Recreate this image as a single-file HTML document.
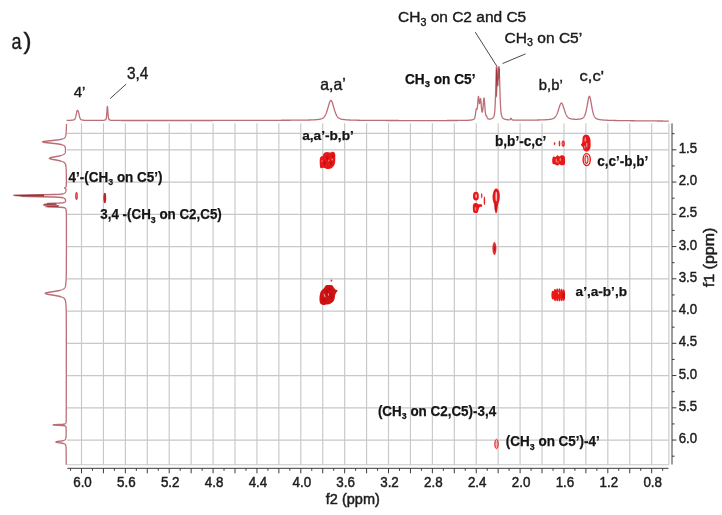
<!DOCTYPE html>
<html><head><meta charset="utf-8"><title>COSY</title>
<style>html,body{margin:0;padding:0;background:#fff;width:722px;height:515px;overflow:hidden}svg{display:block;will-change:transform;font-family:"Liberation Sans",sans-serif}</style>
</head><body><svg width="722" height="515" viewBox="0 0 722 515"><path d="M81.50 123.2V464.7 M103.43 123.2V464.7 M125.36 123.2V464.7 M147.29 123.2V464.7 M169.22 123.2V464.7 M191.15 123.2V464.7 M213.08 123.2V464.7 M235.01 123.2V464.7 M256.94 123.2V464.7 M278.87 123.2V464.7 M300.80 123.2V464.7 M322.73 123.2V464.7 M344.66 123.2V464.7 M366.59 123.2V464.7 M388.52 123.2V464.7 M410.45 123.2V464.7 M432.38 123.2V464.7 M454.31 123.2V464.7 M476.24 123.2V464.7 M498.17 123.2V464.7 M520.10 123.2V464.7 M542.03 123.2V464.7 M563.96 123.2V464.7 M585.89 123.2V464.7 M607.82 123.2V464.7 M629.75 123.2V464.7 M651.68 123.2V464.7 M668.9 123.2V464.7 M67.0 133.40H668.9 M67.0 149.80H668.9 M67.0 182.05H668.9 M67.0 214.30H668.9 M67.0 246.55H668.9 M67.0 278.80H668.9 M67.0 311.05H668.9 M67.0 343.30H668.9 M67.0 375.55H668.9 M67.0 407.80H668.9 M67.0 440.05H668.9 M67.0 464.70H668.9" stroke="#c8c8c8" stroke-width="1.15" fill="none"/><path d="M67.3 468.3H668.5 M70.54 468.3V470.8 M81.50 468.3V473.3 M92.46 468.3V470.8 M103.43 468.3V473.3 M114.39 468.3V470.8 M125.36 468.3V473.3 M136.32 468.3V470.8 M147.29 468.3V473.3 M158.26 468.3V470.8 M169.22 468.3V473.3 M180.19 468.3V470.8 M191.15 468.3V473.3 M202.11 468.3V470.8 M213.08 468.3V473.3 M224.04 468.3V470.8 M235.01 468.3V473.3 M245.98 468.3V470.8 M256.94 468.3V473.3 M267.91 468.3V470.8 M278.87 468.3V473.3 M289.84 468.3V470.8 M300.80 468.3V473.3 M311.76 468.3V470.8 M322.73 468.3V473.3 M333.69 468.3V470.8 M344.66 468.3V473.3 M355.62 468.3V470.8 M366.59 468.3V473.3 M377.56 468.3V470.8 M388.52 468.3V473.3 M399.49 468.3V470.8 M410.45 468.3V473.3 M421.42 468.3V470.8 M432.38 468.3V473.3 M443.35 468.3V470.8 M454.31 468.3V473.3 M465.28 468.3V470.8 M476.24 468.3V473.3 M487.21 468.3V470.8 M498.17 468.3V473.3 M509.13 468.3V470.8 M520.10 468.3V473.3 M531.07 468.3V470.8 M542.03 468.3V473.3 M553.00 468.3V470.8 M563.96 468.3V473.3 M574.92 468.3V470.8 M585.89 468.3V473.3 M596.86 468.3V470.8 M607.82 468.3V473.3 M618.79 468.3V470.8 M629.75 468.3V473.3 M640.72 468.3V470.8 M651.68 468.3V473.3 M662.64 468.3V470.8 M672.0 123.4V464.5 M672.0 133.68H674.6 M672.0 149.80H676.4 M672.0 165.93H674.6 M672.0 182.05H676.4 M672.0 198.18H674.6 M672.0 214.30H676.4 M672.0 230.43H674.6 M672.0 246.55H676.4 M672.0 262.68H674.6 M672.0 278.80H676.4 M672.0 294.93H674.6 M672.0 311.05H676.4 M672.0 327.18H674.6 M672.0 343.30H676.4 M672.0 359.43H674.6 M672.0 375.55H676.4 M672.0 391.68H674.6 M672.0 407.80H676.4 M672.0 423.93H674.6 M672.0 440.05H676.4 M672.0 456.18H674.6" stroke="#3a3a3a" stroke-width="1" fill="none"/><g font-family="Liberation Sans" font-size="15.2" fill="#1e1e1e" stroke="#1e1e1e" stroke-width="0.5"><text x="73.20" y="486.6" textLength="18.6" lengthAdjust="spacingAndGlyphs">6.0</text><text x="117.06" y="486.6" textLength="18.6" lengthAdjust="spacingAndGlyphs">5.6</text><text x="160.92" y="486.6" textLength="18.6" lengthAdjust="spacingAndGlyphs">5.2</text><text x="204.78" y="486.6" textLength="18.6" lengthAdjust="spacingAndGlyphs">4.8</text><text x="248.64" y="486.6" textLength="18.6" lengthAdjust="spacingAndGlyphs">4.4</text><text x="292.50" y="486.6" textLength="18.6" lengthAdjust="spacingAndGlyphs">4.0</text><text x="336.36" y="486.6" textLength="18.6" lengthAdjust="spacingAndGlyphs">3.6</text><text x="380.22" y="486.6" textLength="18.6" lengthAdjust="spacingAndGlyphs">3.2</text><text x="424.08" y="486.6" textLength="18.6" lengthAdjust="spacingAndGlyphs">2.8</text><text x="467.94" y="486.6" textLength="18.6" lengthAdjust="spacingAndGlyphs">2.4</text><text x="511.80" y="486.6" textLength="18.6" lengthAdjust="spacingAndGlyphs">2.0</text><text x="555.66" y="486.6" textLength="18.6" lengthAdjust="spacingAndGlyphs">1.6</text><text x="599.52" y="486.6" textLength="18.6" lengthAdjust="spacingAndGlyphs">1.2</text><text x="643.38" y="486.6" textLength="18.6" lengthAdjust="spacingAndGlyphs">0.8</text><text x="678.7" y="152.80" textLength="18.4" lengthAdjust="spacingAndGlyphs">1.5</text><text x="678.7" y="185.05" textLength="18.4" lengthAdjust="spacingAndGlyphs">2.0</text><text x="678.7" y="217.30" textLength="18.4" lengthAdjust="spacingAndGlyphs">2.5</text><text x="678.7" y="249.55" textLength="18.4" lengthAdjust="spacingAndGlyphs">3.0</text><text x="678.7" y="281.80" textLength="18.4" lengthAdjust="spacingAndGlyphs">3.5</text><text x="678.7" y="314.05" textLength="18.4" lengthAdjust="spacingAndGlyphs">4.0</text><text x="678.7" y="346.30" textLength="18.4" lengthAdjust="spacingAndGlyphs">4.5</text><text x="678.7" y="378.55" textLength="18.4" lengthAdjust="spacingAndGlyphs">5.0</text><text x="678.7" y="410.80" textLength="18.4" lengthAdjust="spacingAndGlyphs">5.5</text><text x="678.7" y="443.05" textLength="18.4" lengthAdjust="spacingAndGlyphs">6.0</text><text x="325.8" y="504" textLength="54" lengthAdjust="spacingAndGlyphs">f2 (ppm)</text><text transform="translate(713.6 287.2) rotate(-90)" font-size="14.3" textLength="59.5" lengthAdjust="spacingAndGlyphs">f1 (ppm)</text></g><polyline points="66.60,120.41 66.85,120.41 67.10,120.41 67.35,120.40 67.60,120.40 67.85,120.39 68.10,120.39 68.35,120.38 68.60,120.37 68.85,120.37 69.10,120.36 69.35,120.35 69.60,120.34 69.85,120.33 70.10,120.32 70.35,120.31 70.60,120.30 70.85,120.28 71.10,120.26 71.35,120.25 71.60,120.22 71.85,120.20 72.10,120.17 72.35,120.14 72.60,120.11 72.85,120.07 73.10,120.02 73.35,119.96 73.60,119.89 73.85,119.80 74.10,119.68 74.35,119.51 74.60,119.29 74.85,118.98 75.10,118.54 75.35,117.96 75.60,117.20 75.85,116.26 76.10,115.13 76.35,113.88 76.60,112.60 76.85,111.47 77.10,110.70 77.35,110.37 77.60,110.40 77.85,110.64 78.10,111.00 78.35,111.55 78.60,112.36 78.85,113.45 79.10,114.66 79.35,115.84 79.60,116.87 79.85,117.71 80.10,118.37 80.35,118.86 80.60,119.21 80.85,119.46 81.10,119.64 81.35,119.77 81.60,119.87 81.85,119.95 82.10,120.01 82.35,120.06 82.60,120.10 82.85,120.14 83.10,120.17 83.35,120.19 83.60,120.22 83.85,120.24 84.10,120.26 84.35,120.28 84.60,120.29 84.85,120.30 85.10,120.32 85.35,120.33 85.60,120.34 85.85,120.35 86.10,120.35 86.35,120.36 86.60,120.37 86.85,120.38 87.10,120.38 87.35,120.39 87.60,120.39 87.85,120.40 88.10,120.40 88.35,120.40 88.60,120.41 88.85,120.41 89.10,120.41 89.35,120.42 89.60,120.42 89.85,120.42 90.10,120.42 90.35,120.43 90.60,120.43 90.85,120.43 91.10,120.43 91.35,120.43 91.60,120.43 91.85,120.44 92.10,120.44 92.35,120.44 92.60,120.44 92.85,120.44 93.10,120.44 93.35,120.44 93.60,120.44 93.85,120.44 94.10,120.44 94.35,120.44 94.60,120.44 94.85,120.45 95.10,120.45 95.35,120.45 95.60,120.45 95.85,120.45 96.10,120.45 96.35,120.44 96.60,120.44 96.85,120.44 97.10,120.44 97.35,120.44 97.60,120.44 97.85,120.44 98.10,120.44 98.35,120.44 98.60,120.44 98.85,120.44 99.10,120.43 99.35,120.43 99.60,120.43 99.85,120.43 100.10,120.42 100.35,120.42 100.60,120.42 100.85,120.41 101.10,120.41 101.35,120.40 101.60,120.40 101.85,120.39 102.10,120.38 102.35,120.37 102.60,120.36 102.85,120.35 103.10,120.33 103.35,120.31 103.60,120.29 103.85,120.26 104.10,120.23 104.35,120.19 104.60,120.14 104.85,120.07 105.10,119.98 105.35,119.86 105.60,119.68 105.85,119.40 106.10,118.86 106.35,117.78 106.60,115.78 106.85,112.62 107.10,108.79 107.35,106.29 107.60,107.46 107.85,111.10 108.10,114.66 108.35,117.11 108.60,118.51 108.85,119.22 109.10,119.59 109.35,119.80 109.60,119.94 109.85,120.04 110.10,120.12 110.35,120.17 110.60,120.22 110.85,120.26 111.10,120.29 111.35,120.31 111.60,120.33 111.85,120.35 112.10,120.36 112.35,120.37 112.60,120.38 112.85,120.39 113.10,120.40 113.35,120.41 113.60,120.41 113.85,120.42 114.10,120.43 114.35,120.43 114.60,120.43 114.85,120.44 115.10,120.44 115.35,120.44 115.60,120.45 115.85,120.45 116.10,120.45 116.35,120.45 116.60,120.46 116.85,120.46 117.10,120.46 117.35,120.46 117.60,120.46 117.85,120.46 118.10,120.46 118.35,120.47 118.60,120.47 118.85,120.47 119.10,120.47 119.35,120.47 119.60,120.47 119.85,120.47 120.10,120.47 120.35,120.47 120.60,120.47 120.85,120.47 121.10,120.47 121.35,120.48 121.60,120.48 121.85,120.48 122.10,120.48 122.35,120.48 122.60,120.48 122.85,120.48 123.10,120.48 123.35,120.48 123.60,120.48 123.85,120.48 124.10,120.48 124.35,120.48 124.60,120.48 124.85,120.48 125.10,120.48 125.35,120.48 125.60,120.48 125.85,120.48 126.10,120.48 126.35,120.48 126.60,120.48 126.85,120.48 127.10,120.48 127.35,120.48 127.60,120.48 127.85,120.48 128.10,120.48 128.35,120.48 128.60,120.48 128.85,120.48 129.10,120.48 129.35,120.49 129.60,120.49 129.85,120.49 130.10,120.49 130.35,120.49 130.60,120.49 130.85,120.49 131.10,120.49 131.35,120.49 131.60,120.49 131.85,120.49 132.10,120.49 132.35,120.49 132.60,120.49 132.85,120.49 133.10,120.49 133.35,120.49 133.60,120.49 133.85,120.49 134.10,120.49 134.35,120.49 134.60,120.49 134.85,120.49 135.10,120.49 135.35,120.49 135.60,120.49 135.85,120.49 136.10,120.49 136.35,120.49 136.60,120.49 136.85,120.49 137.10,120.49 137.35,120.49 137.60,120.49 137.85,120.49 138.10,120.49 138.35,120.49 138.60,120.49 138.85,120.49 139.10,120.49 139.35,120.49 139.60,120.49 139.85,120.49 140.10,120.49 140.35,120.49 140.60,120.49 140.85,120.49 141.10,120.49 141.35,120.49 141.60,120.49 141.85,120.49 142.10,120.49 142.35,120.49 142.60,120.49 142.85,120.49 143.10,120.49 143.35,120.49 143.60,120.49 143.85,120.49 144.10,120.49 144.35,120.49 144.60,120.49 144.85,120.49 145.10,120.49 145.35,120.49 145.60,120.49 145.85,120.49 146.10,120.49 146.35,120.49 146.60,120.49 146.85,120.49 147.10,120.49 147.35,120.49 147.60,120.49 147.85,120.49 148.10,120.49 148.35,120.49 148.60,120.49 148.85,120.49 149.10,120.49 149.35,120.49 149.60,120.49 149.85,120.49 150.10,120.49 150.35,120.49 150.60,120.49 150.85,120.49 151.10,120.49 151.35,120.49 151.60,120.49 151.85,120.49 152.10,120.49 152.35,120.49 152.60,120.49 152.85,120.49 153.10,120.49 153.35,120.49 153.60,120.49 153.85,120.49 154.10,120.49 154.35,120.49 154.60,120.49 154.85,120.49 155.10,120.49 155.35,120.49 155.60,120.49 155.85,120.49 156.10,120.49 156.35,120.49 156.60,120.49 156.85,120.49 157.10,120.49 157.35,120.49 157.60,120.49 157.85,120.49 158.10,120.49 158.35,120.49 158.60,120.49 158.85,120.49 159.10,120.49 159.35,120.49 159.60,120.49 159.85,120.49 160.10,120.49 160.35,120.49 160.60,120.49 160.85,120.49 161.10,120.49 161.35,120.49 161.60,120.49 161.85,120.49 162.10,120.49 162.35,120.49 162.60,120.49 162.85,120.49 163.10,120.49 163.35,120.49 163.60,120.49 163.85,120.49 164.10,120.49 164.35,120.49 164.60,120.49 164.85,120.49 165.10,120.49 165.35,120.49 165.60,120.49 165.85,120.49 166.10,120.49 166.35,120.49 166.60,120.49 166.85,120.49 167.10,120.49 167.35,120.49 167.60,120.49 167.85,120.49 168.10,120.49 168.35,120.49 168.60,120.49 168.85,120.49 169.10,120.49 169.35,120.49 169.60,120.49 169.85,120.49 170.10,120.49 170.35,120.49 170.60,120.49 170.85,120.49 171.10,120.49 171.35,120.49 171.60,120.49 171.85,120.49 172.10,120.49 172.35,120.49 172.60,120.49 172.85,120.49 173.10,120.49 173.35,120.49 173.60,120.49 173.85,120.49 174.10,120.49 174.35,120.49 174.60,120.49 174.85,120.49 175.10,120.49 175.35,120.49 175.60,120.49 175.85,120.49 176.10,120.49 176.35,120.49 176.60,120.49 176.85,120.49 177.10,120.49 177.35,120.49 177.60,120.49 177.85,120.49 178.10,120.49 178.35,120.49 178.60,120.49 178.85,120.49 179.10,120.49 179.35,120.49 179.60,120.49 179.85,120.49 180.10,120.49 180.35,120.49 180.60,120.49 180.85,120.49 181.10,120.49 181.35,120.49 181.60,120.49 181.85,120.49 182.10,120.49 182.35,120.49 182.60,120.49 182.85,120.49 183.10,120.49 183.35,120.49 183.60,120.49 183.85,120.49 184.10,120.49 184.35,120.49 184.60,120.49 184.85,120.49 185.10,120.49 185.35,120.49 185.60,120.49 185.85,120.49 186.10,120.49 186.35,120.49 186.60,120.49 186.85,120.49 187.10,120.49 187.35,120.49 187.60,120.49 187.85,120.49 188.10,120.49 188.35,120.49 188.60,120.49 188.85,120.49 189.10,120.49 189.35,120.49 189.60,120.49 189.85,120.49 190.10,120.49 190.35,120.49 190.60,120.49 190.85,120.49 191.10,120.49 191.35,120.49 191.60,120.49 191.85,120.49 192.10,120.49 192.35,120.49 192.60,120.49 192.85,120.49 193.10,120.49 193.35,120.49 193.60,120.49 193.85,120.49 194.10,120.49 194.35,120.49 194.60,120.49 194.85,120.49 195.10,120.49 195.35,120.49 195.60,120.49 195.85,120.49 196.10,120.49 196.35,120.49 196.60,120.49 196.85,120.49 197.10,120.49 197.35,120.49 197.60,120.49 197.85,120.49 198.10,120.49 198.35,120.49 198.60,120.49 198.85,120.49 199.10,120.49 199.35,120.49 199.60,120.49 199.85,120.49 200.10,120.49 200.35,120.49 200.60,120.49 200.85,120.49 201.10,120.49 201.35,120.49 201.60,120.49 201.85,120.49 202.10,120.49 202.35,120.49 202.60,120.49 202.85,120.49 203.10,120.49 203.35,120.49 203.60,120.49 203.85,120.49 204.10,120.49 204.35,120.49 204.60,120.49 204.85,120.49 205.10,120.49 205.35,120.49 205.60,120.49 205.85,120.49 206.10,120.49 206.35,120.49 206.60,120.49 206.85,120.49 207.10,120.49 207.35,120.49 207.60,120.49 207.85,120.49 208.10,120.49 208.35,120.49 208.60,120.49 208.85,120.48 209.10,120.48 209.35,120.48 209.60,120.48 209.85,120.48 210.10,120.48 210.35,120.48 210.60,120.48 210.85,120.48 211.10,120.48 211.35,120.48 211.60,120.48 211.85,120.48 212.10,120.48 212.35,120.48 212.60,120.48 212.85,120.48 213.10,120.47 213.35,120.47 213.60,120.47 213.85,120.47 214.10,120.47 214.35,120.47 214.60,120.47 214.85,120.47 215.10,120.47 215.35,120.47 215.60,120.47 215.85,120.47 216.10,120.47 216.35,120.47 216.60,120.47 216.85,120.47 217.10,120.47 217.35,120.46 217.60,120.46 217.85,120.46 218.10,120.46 218.35,120.46 218.60,120.46 218.85,120.46 219.10,120.46 219.35,120.46 219.60,120.46 219.85,120.46 220.10,120.46 220.35,120.46 220.60,120.46 220.85,120.46 221.10,120.46 221.35,120.45 221.60,120.45 221.85,120.45 222.10,120.45 222.35,120.45 222.60,120.45 222.85,120.45 223.10,120.45 223.35,120.45 223.60,120.45 223.85,120.45 224.10,120.45 224.35,120.45 224.60,120.45 224.85,120.45 225.10,120.45 225.35,120.45 225.60,120.44 225.85,120.44 226.10,120.44 226.35,120.44 226.60,120.44 226.85,120.44 227.10,120.44 227.35,120.44 227.60,120.44 227.85,120.44 228.10,120.44 228.35,120.44 228.60,120.44 228.85,120.44 229.10,120.44 229.35,120.44 229.60,120.43 229.85,120.43 230.10,120.43 230.35,120.43 230.60,120.43 230.85,120.43 231.10,120.43 231.35,120.43 231.60,120.43 231.85,120.43 232.10,120.43 232.35,120.43 232.60,120.43 232.85,120.43 233.10,120.43 233.35,120.43 233.60,120.42 233.85,120.42 234.10,120.42 234.35,120.42 234.60,120.42 234.85,120.42 235.10,120.42 235.35,120.42 235.60,120.42 235.85,120.42 236.10,120.42 236.35,120.42 236.60,120.42 236.85,120.42 237.10,120.42 237.35,120.42 237.60,120.41 237.85,120.41 238.10,120.41 238.35,120.41 238.60,120.41 238.85,120.41 239.10,120.41 239.35,120.41 239.60,120.41 239.85,120.41 240.10,120.41 240.35,120.41 240.60,120.41 240.85,120.41 241.10,120.41 241.35,120.40 241.60,120.40 241.85,120.40 242.10,120.40 242.35,120.40 242.60,120.40 242.85,120.40 243.10,120.40 243.35,120.40 243.60,120.40 243.85,120.40 244.10,120.40 244.35,120.40 244.60,120.40 244.85,120.40 245.10,120.40 245.35,120.39 245.60,120.39 245.85,120.39 246.10,120.39 246.35,120.39 246.60,120.39 246.85,120.39 247.10,120.39 247.35,120.39 247.60,120.39 247.85,120.39 248.10,120.39 248.35,120.39 248.60,120.39 248.85,120.38 249.10,120.38 249.35,120.38 249.60,120.38 249.85,120.38 250.10,120.38 250.35,120.38 250.60,120.38 250.85,120.38 251.10,120.38 251.35,120.38 251.60,120.38 251.85,120.38 252.10,120.38 252.35,120.38 252.60,120.37 252.85,120.37 253.10,120.37 253.35,120.37 253.60,120.37 253.85,120.37 254.10,120.37 254.35,120.37 254.60,120.37 254.85,120.37 255.10,120.37 255.35,120.37 255.60,120.37 255.85,120.37 256.10,120.36 256.35,120.36 256.60,120.36 256.85,120.36 257.10,120.36 257.35,120.36 257.60,120.36 257.85,120.36 258.10,120.36 258.35,120.36 258.60,120.36 258.85,120.36 259.10,120.36 259.35,120.35 259.60,120.35 259.85,120.35 260.10,120.35 260.35,120.35 260.60,120.35 260.85,120.35 261.10,120.35 261.35,120.35 261.60,120.35 261.85,120.35 262.10,120.35 262.35,120.35 262.60,120.34 262.85,120.34 263.10,120.34 263.35,120.34 263.60,120.34 263.85,120.34 264.10,120.34 264.35,120.34 264.60,120.34 264.85,120.34 265.10,120.34 265.35,120.34 265.60,120.34 265.85,120.33 266.10,120.33 266.35,120.33 266.60,120.33 266.85,120.33 267.10,120.33 267.35,120.33 267.60,120.33 267.85,120.33 268.10,120.33 268.35,120.33 268.60,120.33 268.85,120.32 269.10,120.32 269.35,120.32 269.60,120.32 269.85,120.32 270.10,120.32 270.35,120.32 270.60,120.32 270.85,120.32 271.10,120.32 271.35,120.32 271.60,120.31 271.85,120.31 272.10,120.31 272.35,120.31 272.60,120.31 272.85,120.31 273.10,120.31 273.35,120.31 273.60,120.31 273.85,120.31 274.10,120.31 274.35,120.30 274.60,120.30 274.85,120.30 275.10,120.30 275.35,120.30 275.60,120.30 275.85,120.30 276.10,120.30 276.35,120.30 276.60,120.30 276.85,120.29 277.10,120.29 277.35,120.29 277.60,120.29 277.85,120.29 278.10,120.29 278.35,120.29 278.60,120.29 278.85,120.29 279.10,120.28 279.35,120.28 279.60,120.28 279.85,120.28 280.10,120.28 280.35,120.28 280.60,120.28 280.85,120.28 281.10,120.28 281.35,120.27 281.60,120.27 281.85,120.27 282.10,120.27 282.35,120.27 282.60,120.27 282.85,120.27 283.10,120.27 283.35,120.27 283.60,120.26 283.85,120.26 284.10,120.26 284.35,120.26 284.60,120.26 284.85,120.26 285.10,120.26 285.35,120.25 285.60,120.25 285.85,120.25 286.10,120.25 286.35,120.25 286.60,120.25 286.85,120.25 287.10,120.25 287.35,120.24 287.60,120.24 287.85,120.24 288.10,120.24 288.35,120.24 288.60,120.24 288.85,120.23 289.10,120.23 289.35,120.23 289.60,120.23 289.85,120.23 290.10,120.23 290.35,120.23 290.60,120.22 290.85,120.22 291.10,120.22 291.35,120.22 291.60,120.22 291.85,120.21 292.10,120.21 292.35,120.21 292.60,120.21 292.85,120.21 293.10,120.21 293.35,120.20 293.60,120.20 293.85,120.20 294.10,120.20 294.35,120.20 294.60,120.19 294.85,120.19 295.10,120.19 295.35,120.19 295.60,120.18 295.85,120.18 296.10,120.18 296.35,120.18 296.60,120.18 296.85,120.17 297.10,120.17 297.35,120.17 297.60,120.17 297.85,120.16 298.10,120.16 298.35,120.16 298.60,120.16 298.85,120.15 299.10,120.15 299.35,120.15 299.60,120.14 299.85,120.14 300.10,120.14 300.35,120.14 300.60,120.13 300.85,120.13 301.10,120.13 301.35,120.13 301.60,120.13 301.85,120.12 302.10,120.12 302.35,120.12 302.60,120.12 302.85,120.11 303.10,120.11 303.35,120.11 303.60,120.11 303.85,120.10 304.10,120.10 304.35,120.10 304.60,120.09 304.85,120.09 305.10,120.09 305.35,120.08 305.60,120.08 305.85,120.08 306.10,120.07 306.35,120.07 306.60,120.06 306.85,120.06 307.10,120.05 307.35,120.05 307.60,120.04 307.85,120.04 308.10,120.03 308.35,120.03 308.60,120.02 308.85,120.02 309.10,120.01 309.35,120.01 309.60,120.00 309.85,119.99 310.10,119.98 310.35,119.98 310.60,119.97 310.85,119.96 311.10,119.95 311.35,119.95 311.60,119.94 311.85,119.93 312.10,119.92 312.35,119.91 312.60,119.90 312.85,119.89 313.10,119.87 313.35,119.86 313.60,119.85 313.85,119.84 314.10,119.82 314.35,119.81 314.60,119.80 314.85,119.78 315.10,119.76 315.35,119.75 315.60,119.73 315.85,119.71 316.10,119.69 316.35,119.67 316.60,119.65 316.85,119.63 317.10,119.60 317.35,119.58 317.60,119.55 317.85,119.52 318.10,119.49 318.35,119.46 318.60,119.43 318.85,119.39 319.10,119.35 319.35,119.31 319.60,119.27 319.85,119.22 320.10,119.17 320.35,119.11 320.60,119.05 320.85,118.98 321.10,118.91 321.35,118.83 321.60,118.74 321.85,118.64 322.10,118.52 322.35,118.40 322.60,118.26 322.85,118.10 323.10,117.92 323.35,117.73 323.60,117.51 323.85,117.26 324.10,116.98 324.35,116.68 324.60,116.34 324.85,115.96 325.10,115.54 325.35,115.09 325.60,114.59 325.85,114.05 326.10,113.47 326.35,112.84 326.60,112.16 326.85,111.44 327.10,110.69 327.35,109.89 327.60,109.06 327.85,108.21 328.10,107.33 328.35,106.44 328.60,105.56 328.85,104.69 329.10,103.85 329.35,103.05 329.60,102.33 329.85,101.69 330.10,101.16 330.35,100.76 330.60,100.50 330.85,100.39 331.10,100.44 331.35,100.64 331.60,100.99 331.85,101.47 332.10,102.07 332.35,102.76 332.60,103.53 332.85,104.36 333.10,105.22 333.35,106.10 333.60,106.99 333.85,107.87 334.10,108.74 334.35,109.58 334.60,110.39 334.85,111.17 335.10,111.90 335.35,112.60 335.60,113.24 335.85,113.85 336.10,114.41 336.35,114.92 336.60,115.40 336.85,115.83 337.10,116.22 337.35,116.58 337.60,116.90 337.85,117.19 338.10,117.45 338.35,117.68 338.60,117.89 338.85,118.08 339.10,118.24 339.35,118.39 339.60,118.52 339.85,118.64 340.10,118.75 340.35,118.84 340.60,118.93 340.85,119.01 341.10,119.08 341.35,119.15 341.60,119.21 341.85,119.26 342.10,119.31 342.35,119.36 342.60,119.40 342.85,119.44 343.10,119.48 343.35,119.52 343.60,119.55 343.85,119.58 344.10,119.61 344.35,119.64 344.60,119.67 344.85,119.69 345.10,119.72 345.35,119.74 345.60,119.76 345.85,119.78 346.10,119.80 346.35,119.82 346.60,119.84 346.85,119.86 347.10,119.88 347.35,119.89 347.60,119.91 347.85,119.92 348.10,119.94 348.35,119.95 348.60,119.97 348.85,119.98 349.10,119.99 349.35,120.00 349.60,120.01 349.85,120.03 350.10,120.04 350.35,120.05 350.60,120.06 350.85,120.07 351.10,120.08 351.35,120.09 351.60,120.09 351.85,120.10 352.10,120.11 352.35,120.12 352.60,120.13 352.85,120.13 353.10,120.14 353.35,120.15 353.60,120.16 353.85,120.16 354.10,120.17 354.35,120.17 354.60,120.18 354.85,120.19 355.10,120.19 355.35,120.20 355.60,120.20 355.85,120.21 356.10,120.21 356.35,120.22 356.60,120.22 356.85,120.23 357.10,120.23 357.35,120.24 357.60,120.24 357.85,120.25 358.10,120.25 358.35,120.26 358.60,120.26 358.85,120.26 359.10,120.27 359.35,120.27 359.60,120.28 359.85,120.28 360.10,120.28 360.35,120.29 360.60,120.29 360.85,120.29 361.10,120.30 361.35,120.30 361.60,120.30 361.85,120.31 362.10,120.31 362.35,120.31 362.60,120.32 362.85,120.32 363.10,120.32 363.35,120.32 363.60,120.33 363.85,120.33 364.10,120.33 364.35,120.34 364.60,120.34 364.85,120.34 365.10,120.34 365.35,120.35 365.60,120.35 365.85,120.35 366.10,120.35 366.35,120.36 366.60,120.36 366.85,120.36 367.10,120.36 367.35,120.36 367.60,120.37 367.85,120.37 368.10,120.37 368.35,120.37 368.60,120.37 368.85,120.38 369.10,120.38 369.35,120.38 369.60,120.38 369.85,120.38 370.10,120.39 370.35,120.39 370.60,120.39 370.85,120.39 371.10,120.39 371.35,120.40 371.60,120.40 371.85,120.40 372.10,120.40 372.35,120.40 372.60,120.40 372.85,120.41 373.10,120.41 373.35,120.41 373.60,120.41 373.85,120.41 374.10,120.41 374.35,120.42 374.60,120.42 374.85,120.42 375.10,120.42 375.35,120.42 375.60,120.42 375.85,120.42 376.10,120.43 376.35,120.43 376.60,120.43 376.85,120.43 377.10,120.43 377.35,120.43 377.60,120.43 377.85,120.44 378.10,120.44 378.35,120.44 378.60,120.44 378.85,120.44 379.10,120.44 379.35,120.44 379.60,120.45 379.85,120.45 380.10,120.45 380.35,120.45 380.60,120.45 380.85,120.45 381.10,120.45 381.35,120.45 381.60,120.46 381.85,120.46 382.10,120.46 382.35,120.46 382.60,120.46 382.85,120.46 383.10,120.46 383.35,120.46 383.60,120.46 383.85,120.47 384.10,120.47 384.35,120.47 384.60,120.47 384.85,120.47 385.10,120.47 385.35,120.47 385.60,120.47 385.85,120.47 386.10,120.48 386.35,120.48 386.60,120.48 386.85,120.48 387.10,120.48 387.35,120.48 387.60,120.48 387.85,120.48 388.10,120.48 388.35,120.49 388.60,120.49 388.85,120.49 389.10,120.49 389.35,120.49 389.60,120.49 389.85,120.49 390.10,120.49 390.35,120.49 390.60,120.49 390.85,120.50 391.10,120.50 391.35,120.50 391.60,120.50 391.85,120.50 392.10,120.50 392.35,120.50 392.60,120.50 392.85,120.50 393.10,120.50 393.35,120.50 393.60,120.51 393.85,120.51 394.10,120.51 394.35,120.51 394.60,120.51 394.85,120.51 395.10,120.51 395.35,120.51 395.60,120.51 395.85,120.51 396.10,120.52 396.35,120.52 396.60,120.52 396.85,120.52 397.10,120.52 397.35,120.52 397.60,120.52 397.85,120.52 398.10,120.52 398.35,120.52 398.60,120.52 398.85,120.52 399.10,120.53 399.35,120.53 399.60,120.53 399.85,120.53 400.10,120.53 400.35,120.53 400.60,120.53 400.85,120.53 401.10,120.53 401.35,120.53 401.60,120.53 401.85,120.53 402.10,120.54 402.35,120.54 402.60,120.54 402.85,120.54 403.10,120.54 403.35,120.54 403.60,120.54 403.85,120.54 404.10,120.54 404.35,120.54 404.60,120.54 404.85,120.54 405.10,120.55 405.35,120.55 405.60,120.55 405.85,120.55 406.10,120.55 406.35,120.55 406.60,120.55 406.85,120.55 407.10,120.55 407.35,120.55 407.60,120.55 407.85,120.55 408.10,120.55 408.35,120.55 408.60,120.55 408.85,120.55 409.10,120.55 409.35,120.55 409.60,120.55 409.85,120.55 410.10,120.55 410.35,120.55 410.60,120.55 410.85,120.55 411.10,120.55 411.35,120.55 411.60,120.55 411.85,120.55 412.10,120.55 412.35,120.55 412.60,120.55 412.85,120.55 413.10,120.55 413.35,120.55 413.60,120.55 413.85,120.55 414.10,120.55 414.35,120.55 414.60,120.55 414.85,120.55 415.10,120.55 415.35,120.55 415.60,120.55 415.85,120.55 416.10,120.55 416.35,120.55 416.60,120.55 416.85,120.55 417.10,120.55 417.35,120.55 417.60,120.55 417.85,120.55 418.10,120.55 418.35,120.55 418.60,120.55 418.85,120.55 419.10,120.55 419.35,120.55 419.60,120.55 419.85,120.55 420.10,120.55 420.35,120.55 420.60,120.55 420.85,120.55 421.10,120.55 421.35,120.55 421.60,120.55 421.85,120.55 422.10,120.55 422.35,120.55 422.60,120.55 422.85,120.55 423.10,120.55 423.35,120.55 423.60,120.55 423.85,120.55 424.10,120.55 424.35,120.55 424.60,120.55 424.85,120.55 425.10,120.55 425.35,120.55 425.60,120.55 425.85,120.55 426.10,120.55 426.35,120.55 426.60,120.55 426.85,120.55 427.10,120.55 427.35,120.55 427.60,120.55 427.85,120.55 428.10,120.55 428.35,120.55 428.60,120.55 428.85,120.55 429.10,120.55 429.35,120.55 429.60,120.55 429.85,120.55 430.10,120.55 430.35,120.55 430.60,120.55 430.85,120.55 431.10,120.55 431.35,120.55 431.60,120.55 431.85,120.55 432.10,120.55 432.35,120.55 432.60,120.55 432.85,120.55 433.10,120.55 433.35,120.55 433.60,120.55 433.85,120.55 434.10,120.55 434.35,120.55 434.60,120.55 434.85,120.55 435.10,120.55 435.35,120.55 435.60,120.54 435.85,120.54 436.10,120.54 436.35,120.54 436.60,120.54 436.85,120.54 437.10,120.54 437.35,120.54 437.60,120.54 437.85,120.54 438.10,120.54 438.35,120.54 438.60,120.54 438.85,120.54 439.10,120.54 439.35,120.54 439.60,120.54 439.85,120.54 440.10,120.54 440.35,120.54 440.60,120.54 440.85,120.54 441.10,120.54 441.35,120.54 441.60,120.54 441.85,120.54 442.10,120.54 442.35,120.54 442.60,120.53 442.85,120.53 443.10,120.53 443.35,120.53 443.60,120.53 443.85,120.53 444.10,120.53 444.35,120.53 444.60,120.53 444.85,120.53 445.10,120.53 445.35,120.53 445.60,120.53 445.85,120.53 446.10,120.53 446.35,120.53 446.60,120.53 446.85,120.53 447.10,120.52 447.35,120.52 447.60,120.52 447.85,120.52 448.10,120.52 448.35,120.52 448.60,120.52 448.85,120.52 449.10,120.52 449.35,120.52 449.60,120.52 449.85,120.52 450.10,120.52 450.35,120.51 450.60,120.51 450.85,120.51 451.10,120.51 451.35,120.51 451.60,120.51 451.85,120.51 452.10,120.51 452.35,120.51 452.60,120.51 452.85,120.50 453.10,120.50 453.35,120.50 453.60,120.50 453.85,120.50 454.10,120.50 454.35,120.50 454.60,120.50 454.85,120.49 455.10,120.49 455.35,120.49 455.60,120.49 455.85,120.49 456.10,120.49 456.35,120.49 456.60,120.48 456.85,120.48 457.10,120.48 457.35,120.48 457.60,120.48 457.85,120.47 458.10,120.47 458.35,120.47 458.60,120.47 458.85,120.47 459.10,120.46 459.35,120.46 459.60,120.46 459.85,120.46 460.10,120.45 460.35,120.45 460.60,120.45 460.85,120.45 461.10,120.44 461.35,120.44 461.60,120.44 461.85,120.43 462.10,120.43 462.35,120.43 462.60,120.42 462.85,120.42 463.10,120.41 463.35,120.41 463.60,120.40 463.85,120.40 464.10,120.40 464.35,120.39 464.60,120.38 464.85,120.38 465.10,120.37 465.35,120.37 465.60,120.36 465.85,120.35 466.10,120.35 466.35,120.34 466.60,120.33 466.85,120.32 467.10,120.31 467.35,120.30 467.60,120.29 467.85,120.28 468.10,120.27 468.35,120.26 468.60,120.24 468.85,120.23 469.10,120.21 469.35,120.20 469.60,120.18 469.85,120.16 470.10,120.14 470.35,120.11 470.60,120.08 470.85,120.05 471.10,120.02 471.35,119.99 471.60,119.95 471.85,119.90 472.10,119.85 472.35,119.79 472.60,119.73 472.85,119.65 473.10,119.56 473.35,119.46 473.60,119.33 473.85,119.17 474.10,118.96 474.35,118.66 474.60,118.20 474.85,117.50 475.10,116.43 475.35,114.92 475.60,113.02 475.85,110.99 476.10,109.42 476.35,108.91 476.60,109.25 476.85,109.54 477.10,109.06 477.35,107.47 477.60,104.81 477.85,101.47 478.10,98.29 478.35,96.47 478.60,96.82 478.85,98.88 479.10,101.34 479.35,103.13 479.60,103.65 479.85,102.81 480.10,100.99 480.35,99.13 480.60,98.55 480.85,100.03 481.10,103.01 481.35,106.33 481.60,109.20 481.85,111.21 482.10,112.22 482.35,112.20 482.60,111.20 482.85,109.28 483.10,106.57 483.35,103.36 483.60,100.25 483.85,98.18 484.10,98.06 484.35,100.02 484.60,103.23 484.85,106.74 485.10,109.91 485.35,112.45 485.60,114.25 485.85,115.33 486.10,115.79 486.35,115.88 486.60,116.03 486.85,116.58 487.10,117.33 487.35,117.97 487.60,118.40 487.85,118.67 488.10,118.83 488.35,118.93 488.60,118.99 488.85,119.04 489.10,119.07 489.35,119.08 489.60,119.09 489.85,119.08 490.10,119.06 490.35,119.03 490.60,118.99 490.85,118.94 491.10,118.87 491.35,118.79 491.60,118.70 491.85,118.58 492.10,118.45 492.35,118.29 492.60,118.09 492.85,117.86 493.10,117.59 493.35,117.25 493.60,116.82 493.85,116.27 494.10,115.51 494.35,114.41 494.60,112.73 494.85,110.11 495.10,106.13 495.35,100.38 495.60,92.71 495.85,83.51 496.10,74.11 496.35,67.16 496.60,65.62 496.85,69.67 497.10,76.31 497.35,82.30 497.60,85.68 497.85,85.71 498.10,82.51 498.35,76.96 498.60,70.80 498.85,66.58 499.10,66.76 499.35,71.75 499.60,79.69 499.85,88.28 500.10,96.09 500.35,102.47 500.60,107.28 500.85,110.71 501.10,113.04 501.35,114.60 501.60,115.66 501.85,116.40 502.10,116.95 502.35,117.38 502.60,117.72 502.85,118.00 503.10,118.24 503.35,118.44 503.60,118.62 503.85,118.77 504.10,118.90 504.35,119.01 504.60,119.12 504.85,119.20 505.10,119.28 505.35,119.35 505.60,119.42 505.85,119.47 506.10,119.53 506.35,119.57 506.60,119.61 506.85,119.65 507.10,119.68 507.35,119.71 507.60,119.74 507.85,119.76 508.10,119.78 508.35,119.79 508.60,119.81 508.85,119.81 509.10,119.81 509.35,119.79 509.60,119.74 509.85,119.62 510.10,119.38 510.35,119.00 510.60,118.53 510.85,118.23 511.10,118.39 511.35,118.85 511.60,119.31 511.85,119.62 512.10,119.81 512.35,119.90 512.60,119.96 512.85,119.99 513.10,120.01 513.35,120.03 513.60,120.05 513.85,120.06 514.10,120.07 514.35,120.08 514.60,120.09 514.85,120.10 515.10,120.10 515.35,120.11 515.60,120.11 515.85,120.12 516.10,120.12 516.35,120.13 516.60,120.13 516.85,120.13 517.10,120.14 517.35,120.14 517.60,120.14 517.85,120.14 518.10,120.15 518.35,120.15 518.60,120.15 518.85,120.15 519.10,120.15 519.35,120.15 519.60,120.15 519.85,120.16 520.10,120.16 520.35,120.16 520.60,120.16 520.85,120.16 521.10,120.16 521.35,120.16 521.60,120.16 521.85,120.16 522.10,120.16 522.35,120.16 522.60,120.16 522.85,120.16 523.10,120.16 523.35,120.16 523.60,120.16 523.85,120.16 524.10,120.16 524.35,120.16 524.60,120.16 524.85,120.15 525.10,120.15 525.35,120.15 525.60,120.15 525.85,120.15 526.10,120.15 526.35,120.15 526.60,120.15 526.85,120.15 527.10,120.14 527.35,120.14 527.60,120.14 527.85,120.14 528.10,120.14 528.35,120.14 528.60,120.13 528.85,120.13 529.10,120.13 529.35,120.13 529.60,120.13 529.85,120.12 530.10,120.12 530.35,120.12 530.60,120.12 530.85,120.11 531.10,120.11 531.35,120.11 531.60,120.11 531.85,120.10 532.10,120.10 532.35,120.10 532.60,120.10 532.85,120.09 533.10,120.09 533.35,120.09 533.60,120.08 533.85,120.08 534.10,120.08 534.35,120.07 534.60,120.07 534.85,120.07 535.10,120.06 535.35,120.06 535.60,120.05 535.85,120.05 536.10,120.05 536.35,120.04 536.60,120.04 536.85,120.03 537.10,120.03 537.35,120.02 537.60,120.02 537.85,120.01 538.10,120.01 538.35,120.00 538.60,120.00 538.85,119.99 539.10,119.99 539.35,119.98 539.60,119.97 539.85,119.97 540.10,119.96 540.35,119.95 540.60,119.95 540.85,119.94 541.10,119.93 541.35,119.92 541.60,119.92 541.85,119.91 542.10,119.90 542.35,119.89 542.60,119.88 542.85,119.87 543.10,119.86 543.35,119.85 543.60,119.84 543.85,119.83 544.10,119.82 544.35,119.81 544.60,119.80 544.85,119.78 545.10,119.77 545.35,119.76 545.60,119.74 545.85,119.73 546.10,119.71 546.35,119.69 546.60,119.68 546.85,119.66 547.10,119.64 547.35,119.62 547.60,119.60 547.85,119.58 548.10,119.56 548.35,119.53 548.60,119.51 548.85,119.48 549.10,119.46 549.35,119.43 549.60,119.39 549.85,119.36 550.10,119.33 550.35,119.29 550.60,119.25 550.85,119.20 551.10,119.16 551.35,119.10 551.60,119.05 551.85,118.99 552.10,118.92 552.35,118.84 552.60,118.76 552.85,118.66 553.10,118.56 553.35,118.44 553.60,118.31 553.85,118.16 554.10,117.99 554.35,117.81 554.60,117.59 554.85,117.36 555.10,117.09 555.35,116.79 555.60,116.46 555.85,116.10 556.10,115.69 556.35,115.25 556.60,114.76 556.85,114.23 557.10,113.66 557.35,113.05 557.60,112.40 557.85,111.70 558.10,110.98 558.35,110.22 558.60,109.44 558.85,108.64 559.10,107.84 559.35,107.04 559.60,106.26 559.85,105.53 560.10,104.85 560.35,104.25 560.60,103.75 560.85,103.37 561.10,103.12 561.35,103.02 561.60,103.06 561.85,103.25 562.10,103.58 562.35,104.04 562.60,104.60 562.85,105.25 563.10,105.96 563.35,106.72 563.60,107.51 563.85,108.31 564.10,109.11 564.35,109.89 564.60,110.66 564.85,111.39 565.10,112.10 565.35,112.76 565.60,113.39 565.85,113.97 566.10,114.51 566.35,115.01 566.60,115.47 566.85,115.89 567.10,116.26 567.35,116.60 567.60,116.91 567.85,117.18 568.10,117.43 568.35,117.65 568.60,117.84 568.85,118.01 569.10,118.16 569.35,118.29 569.60,118.41 569.85,118.51 570.10,118.61 570.35,118.69 570.60,118.76 570.85,118.82 571.10,118.88 571.35,118.93 571.60,118.98 571.85,119.02 572.10,119.06 572.35,119.09 572.60,119.12 572.85,119.15 573.10,119.17 573.35,119.19 573.60,119.21 573.85,119.23 574.10,119.25 574.35,119.26 574.60,119.27 574.85,119.28 575.10,119.29 575.35,119.29 575.60,119.30 575.85,119.30 576.10,119.30 576.35,119.30 576.60,119.30 576.85,119.29 577.10,119.28 577.35,119.28 577.60,119.26 577.85,119.25 578.10,119.24 578.35,119.22 578.60,119.20 578.85,119.18 579.10,119.15 579.35,119.12 579.60,119.09 579.85,119.06 580.10,119.02 580.35,118.97 580.60,118.92 580.85,118.87 581.10,118.80 581.35,118.74 581.60,118.66 581.85,118.57 582.10,118.46 582.35,118.34 582.60,118.20 582.85,118.04 583.10,117.85 583.35,117.63 583.60,117.37 583.85,117.07 584.10,116.71 584.35,116.29 584.60,115.81 584.85,115.25 585.10,114.60 585.35,113.87 585.60,113.04 585.85,112.12 586.10,111.09 586.35,109.96 586.60,108.74 586.85,107.43 587.10,106.05 587.35,104.62 587.60,103.16 587.85,101.72 588.10,100.33 588.35,99.05 588.60,97.95 588.85,97.08 589.10,96.51 589.35,96.27 589.60,96.38 589.85,96.83 590.10,97.60 590.35,98.62 590.60,99.85 590.85,101.21 591.10,102.64 591.35,104.11 591.60,105.57 591.85,106.98 592.10,108.33 592.35,109.60 592.60,110.77 592.85,111.85 593.10,112.83 593.35,113.71 593.60,114.49 593.85,115.18 594.10,115.78 594.35,116.30 594.60,116.76 594.85,117.15 595.10,117.48 595.35,117.77 595.60,118.02 595.85,118.23 596.10,118.41 596.35,118.57 596.60,118.71 596.85,118.83 597.10,118.94 597.35,119.04 597.60,119.12 597.85,119.20 598.10,119.27 598.35,119.34 598.60,119.40 598.85,119.45 599.10,119.50 599.35,119.55 599.60,119.60 599.85,119.64 600.10,119.68 600.35,119.71 600.60,119.75 600.85,119.78 601.10,119.81 601.35,119.84 601.60,119.87 601.85,119.90 602.10,119.92 602.35,119.95 602.60,119.97 602.85,119.99 603.10,120.01 603.35,120.03 603.60,120.05 603.85,120.07 604.10,120.09 604.35,120.10 604.60,120.12 604.85,120.13 605.10,120.15 605.35,120.16 605.60,120.18 605.85,120.19 606.10,120.20 606.35,120.22 606.60,120.23 606.85,120.24 607.10,120.25 607.35,120.26 607.60,120.27 607.85,120.28 608.10,120.29 608.35,120.30 608.60,120.31 608.85,120.32 609.10,120.33 609.35,120.34 609.60,120.35 609.85,120.36 610.10,120.36 610.35,120.37 610.60,120.38 610.85,120.39 611.10,120.40 611.35,120.40 611.60,120.41 611.85,120.42 612.10,120.42 612.35,120.43 612.60,120.44 612.85,120.44 613.10,120.45 613.35,120.45 613.60,120.46 613.85,120.47 614.10,120.47 614.35,120.48 614.60,120.48 614.85,120.49 615.10,120.49 615.35,120.50 615.60,120.51 615.85,120.51 616.10,120.52 616.35,120.52 616.60,120.53 616.85,120.53 617.10,120.54 617.35,120.54 617.60,120.54 617.85,120.55 618.10,120.55 618.35,120.56 618.60,120.56 618.85,120.57 619.10,120.57 619.35,120.58 619.60,120.58 619.85,120.58 620.10,120.59 620.35,120.59 620.60,120.60 620.85,120.60 621.10,120.60 621.35,120.61 621.60,120.61 621.85,120.62 622.10,120.62 622.35,120.62 622.60,120.63 622.85,120.63 623.10,120.64 623.35,120.64 623.60,120.64 623.85,120.65 624.10,120.65 624.35,120.65 624.60,120.66 624.85,120.66 625.10,120.66 625.35,120.67 625.60,120.67 625.85,120.67 626.10,120.68 626.35,120.68 626.60,120.68 626.85,120.69 627.10,120.69 627.35,120.69 627.60,120.70 627.85,120.70 628.10,120.70 628.35,120.71 628.60,120.71 628.85,120.71 629.10,120.72 629.35,120.72 629.60,120.72 629.85,120.72 630.10,120.73 630.35,120.73 630.60,120.73 630.85,120.74 631.10,120.74 631.35,120.74 631.60,120.74 631.85,120.75 632.10,120.75 632.35,120.75 632.60,120.75 632.85,120.76 633.10,120.76 633.35,120.76 633.60,120.76 633.85,120.77 634.10,120.77 634.35,120.77 634.60,120.77 634.85,120.78 635.10,120.78 635.35,120.78 635.60,120.78 635.85,120.79 636.10,120.79 636.35,120.79 636.60,120.79 636.85,120.80 637.10,120.80 637.35,120.80 637.60,120.80 637.85,120.81 638.10,120.81 638.35,120.81 638.60,120.81 638.85,120.82 639.10,120.82 639.35,120.82 639.60,120.82 639.85,120.82 640.10,120.83 640.35,120.83 640.60,120.83 640.85,120.83 641.10,120.84 641.35,120.84 641.60,120.84 641.85,120.84 642.10,120.85 642.35,120.85 642.60,120.85 642.85,120.85 643.10,120.85 643.35,120.86 643.60,120.86 643.85,120.86 644.10,120.86 644.35,120.87 644.60,120.87 644.85,120.87 645.10,120.87 645.35,120.87 645.60,120.88 645.85,120.88 646.10,120.88 646.35,120.88 646.60,120.89 646.85,120.89 647.10,120.89 647.35,120.89 647.60,120.89 647.85,120.90 648.10,120.90 648.35,120.90 648.60,120.90 648.85,120.91 649.10,120.91 649.35,120.91 649.60,120.91 649.85,120.91 650.10,120.92 650.35,120.92 650.60,120.92 650.85,120.92 651.10,120.92 651.35,120.93 651.60,120.93 651.85,120.93 652.10,120.93 652.35,120.94 652.60,120.94 652.85,120.94 653.10,120.94 653.35,120.94 653.60,120.95 653.85,120.95 654.10,120.95 654.35,120.95 654.60,120.95 654.85,120.96 655.10,120.96 655.35,120.96 655.60,120.96 655.85,120.96 656.10,120.97 656.35,120.97 656.60,120.97 656.85,120.97 657.10,120.97 657.35,120.98 657.60,120.98 657.85,120.98 658.10,120.98 658.35,120.99 658.60,120.99 658.85,120.99 659.10,120.99 659.35,120.99 659.60,121.00 659.85,121.00 660.10,121.00 660.35,121.00 660.60,121.00 660.85,121.01 661.10,121.01 661.35,121.01 661.60,121.01 661.85,121.01 662.10,121.02 662.35,121.02 662.60,121.02 662.85,121.02 663.10,121.02 663.35,121.03 663.60,121.03 663.85,121.03 664.10,121.03 664.35,121.03 664.60,121.04 664.85,121.04 665.10,121.04 665.35,121.04 665.60,121.04 665.85,121.05 666.10,121.05 666.35,121.05 666.60,121.05 666.85,121.05 667.10,121.06 667.35,121.06 667.60,121.06 667.85,121.06 668.10,121.06 668.35,121.07 668.60,121.07 668.85,121.07" stroke="#bb6e76" stroke-width="1.3" fill="none" stroke-linejoin="round"/><polyline points="66.46,124.00 66.45,124.25 66.45,124.50 66.44,124.75 66.44,125.00 66.44,125.25 66.43,125.50 66.43,125.75 66.42,126.00 66.42,126.25 66.41,126.50 66.41,126.75 66.40,127.00 66.39,127.25 66.39,127.50 66.38,127.75 66.37,128.00 66.37,128.25 66.36,128.50 66.35,128.75 66.34,129.00 66.33,129.25 66.32,129.50 66.31,129.75 66.30,130.00 66.29,130.25 66.28,130.50 66.27,130.75 66.25,131.00 66.24,131.25 66.22,131.50 66.21,131.75 66.19,132.00 66.17,132.25 66.15,132.50 66.13,132.75 66.11,133.00 66.08,133.25 66.06,133.50 66.03,133.75 65.99,134.00 65.96,134.25 65.92,134.50 65.88,134.75 65.83,135.00 65.78,135.25 65.73,135.50 65.66,135.75 65.59,136.00 65.51,136.25 65.42,136.50 65.32,136.75 65.20,137.00 65.06,137.25 64.88,137.50 64.67,137.75 64.40,138.00 64.05,138.25 63.60,138.50 63.02,138.75 62.27,139.00 61.32,139.25 60.12,139.50 58.65,139.75 56.90,140.00 54.87,140.25 52.59,140.50 50.16,140.75 47.70,141.00 45.43,141.25 43.62,141.50 42.56,141.75 42.46,142.00 43.33,142.25 45.00,142.50 47.20,142.75 49.62,143.00 52.06,143.25 54.37,143.50 56.44,143.75 58.24,144.00 59.76,144.25 61.00,144.50 61.99,144.75 62.76,145.00 63.36,145.25 63.82,145.50 64.18,145.75 64.45,146.00 64.66,146.25 64.82,146.50 64.96,146.75 65.07,147.00 65.16,147.25 65.23,147.50 65.30,147.75 65.35,148.00 65.39,148.25 65.43,148.50 65.46,148.75 65.48,149.00 65.50,149.25 65.51,149.50 65.52,149.75 65.52,150.00 65.51,150.25 65.51,150.50 65.49,150.75 65.47,151.00 65.44,151.25 65.41,151.50 65.37,151.75 65.32,152.00 65.26,152.25 65.18,152.50 65.09,152.75 64.98,153.00 64.85,153.25 64.68,153.50 64.47,153.75 64.21,154.00 63.89,154.25 63.50,154.50 63.02,154.75 62.45,155.00 61.76,155.25 60.96,155.50 60.03,155.75 58.98,156.00 57.81,156.25 56.54,156.50 55.19,156.75 53.83,157.00 52.49,157.25 51.27,157.50 50.26,157.75 49.57,158.00 49.27,158.25 49.40,158.50 49.95,158.75 50.85,159.00 52.01,159.25 53.32,159.50 54.69,159.75 56.05,160.00 57.36,160.25 58.58,160.50 59.69,160.75 60.68,161.00 61.54,161.25 62.28,161.50 62.91,161.75 63.43,162.00 63.86,162.25 64.22,162.50 64.51,162.75 64.75,163.00 64.94,163.25 65.10,163.50 65.24,163.75 65.35,164.00 65.44,164.25 65.52,164.50 65.59,164.75 65.66,165.00 65.71,165.25 65.76,165.50 65.80,165.75 65.85,166.00 65.88,166.25 65.92,166.50 65.95,166.75 65.98,167.00 66.00,167.25 66.03,167.50 66.05,167.75 66.07,168.00 66.09,168.25 66.11,168.50 66.13,168.75 66.14,169.00 66.16,169.25 66.17,169.50 66.18,169.75 66.19,170.00 66.21,170.25 66.22,170.50 66.23,170.75 66.24,171.00 66.24,171.25 66.25,171.50 66.26,171.75 66.27,172.00 66.27,172.25 66.28,172.50 66.29,172.75 66.29,173.00 66.30,173.25 66.30,173.50 66.31,173.75 66.31,174.00 66.32,174.25 66.32,174.50 66.32,174.75 66.33,175.00 66.33,175.25 66.33,175.50 66.34,175.75 66.34,176.00 66.34,176.25 66.34,176.50 66.35,176.75 66.35,177.00 66.35,177.25 66.35,177.50 66.35,177.75 66.35,178.00 66.36,178.25 66.36,178.50 66.36,178.75 66.36,179.00 66.36,179.25 66.36,179.50 66.36,179.75 66.36,180.00 66.36,180.25 66.36,180.50 66.36,180.75 66.36,181.00 66.36,181.25 66.35,181.50 66.35,181.75 66.35,182.00 66.35,182.25 66.35,182.50 66.34,182.75 66.34,183.00 66.34,183.25 66.33,183.50 66.33,183.75 66.32,184.00 66.32,184.25 66.31,184.50 66.30,184.75 66.29,185.00 66.28,185.25 66.26,185.50 66.24,185.75 66.21,186.00 66.17,186.25 66.10,186.50 65.96,186.75 65.71,187.00 65.32,187.25 64.85,187.50 64.54,187.75 64.67,188.00 65.09,188.25 65.50,188.50 65.78,188.75 65.93,189.00 66.00,189.25 66.02,189.50 66.02,189.75 66.00,190.00 65.98,190.25 65.95,190.50 65.91,190.75 65.86,191.00 65.80,191.25 65.73,191.50 65.64,191.75 65.53,192.00 65.40,192.25 65.23,192.50 65.02,192.75 64.74,193.00 64.37,193.25 63.85,193.50 63.10,193.75 61.83,194.00 59.29,194.25 53.75,194.50 42.98,194.75 27.06,195.00 13.81,195.25 15.22,195.50 22.38,195.75 22.99,196.00 20.97,196.25 28.55,196.50 42.07,196.75 52.72,197.00 58.75,197.25 61.62,197.50 62.99,197.75 63.77,198.00 64.28,198.25 64.64,198.50 64.90,198.75 65.10,199.00 65.25,199.25 65.36,199.50 65.44,199.75 65.50,200.00 65.54,200.25 65.55,200.50 65.55,200.75 65.53,201.00 65.48,201.25 65.39,201.50 65.26,201.75 65.06,202.00 64.74,202.25 64.13,202.50 62.72,202.75 59.45,203.00 53.58,203.25 47.41,203.50 47.84,203.75 53.26,204.00 56.24,204.25 54.08,204.50 47.77,204.75 43.50,205.00 48.05,205.25 54.96,205.50 58.49,205.75 57.56,206.00 52.70,206.25 47.15,206.50 48.32,206.75 54.98,207.00 60.44,207.25 63.29,207.50 64.50,207.75 65.05,208.00 65.36,208.25 65.57,208.50 65.72,208.75 65.83,209.00 65.92,209.25 65.99,209.50 66.04,209.75 66.09,210.00 66.13,210.25 66.16,210.50 66.18,210.75 66.21,211.00 66.23,211.25 66.24,211.50 66.26,211.75 66.27,212.00 66.29,212.25 66.30,212.50 66.31,212.75 66.32,213.00 66.32,213.25 66.33,213.50 66.34,213.75 66.34,214.00 66.35,214.25 66.35,214.50 66.36,214.75 66.36,215.00 66.37,215.25 66.37,215.50 66.38,215.75 66.38,216.00 66.38,216.25 66.38,216.50 66.39,216.75 66.39,217.00 66.39,217.25 66.39,217.50 66.40,217.75 66.40,218.00 66.40,218.25 66.40,218.50 66.40,218.75 66.41,219.00 66.41,219.25 66.41,219.50 66.41,219.75 66.41,220.00 66.41,220.25 66.41,220.50 66.41,220.75 66.41,221.00 66.42,221.25 66.42,221.50 66.42,221.75 66.42,222.00 66.42,222.25 66.42,222.50 66.42,222.75 66.42,223.00 66.42,223.25 66.42,223.50 66.42,223.75 66.42,224.00 66.42,224.25 66.42,224.50 66.42,224.75 66.42,225.00 66.43,225.25 66.43,225.50 66.43,225.75 66.43,226.00 66.43,226.25 66.43,226.50 66.43,226.75 66.43,227.00 66.43,227.25 66.43,227.50 66.43,227.75 66.43,228.00 66.43,228.25 66.43,228.50 66.43,228.75 66.43,229.00 66.43,229.25 66.43,229.50 66.43,229.75 66.43,230.00 66.43,230.25 66.43,230.50 66.43,230.75 66.43,231.00 66.43,231.25 66.43,231.50 66.43,231.75 66.43,232.00 66.43,232.25 66.43,232.50 66.43,232.75 66.43,233.00 66.43,233.25 66.43,233.50 66.43,233.75 66.43,234.00 66.43,234.25 66.43,234.50 66.43,234.75 66.43,235.00 66.43,235.25 66.43,235.50 66.43,235.75 66.43,236.00 66.43,236.25 66.43,236.50 66.43,236.75 66.43,237.00 66.43,237.25 66.43,237.50 66.43,237.75 66.42,238.00 66.42,238.25 66.42,238.50 66.42,238.75 66.42,239.00 66.42,239.25 66.42,239.50 66.42,239.75 66.42,240.00 66.42,240.25 66.42,240.50 66.42,240.75 66.42,241.00 66.42,241.25 66.42,241.50 66.42,241.75 66.42,242.00 66.42,242.25 66.42,242.50 66.42,242.75 66.42,243.00 66.42,243.25 66.42,243.50 66.42,243.75 66.42,244.00 66.42,244.25 66.42,244.50 66.42,244.75 66.42,245.00 66.42,245.25 66.42,245.50 66.41,245.75 66.41,246.00 66.41,246.25 66.41,246.50 66.41,246.75 66.41,247.00 66.41,247.25 66.41,247.50 66.41,247.75 66.41,248.00 66.41,248.25 66.41,248.50 66.41,248.75 66.41,249.00 66.41,249.25 66.41,249.50 66.41,249.75 66.41,250.00 66.41,250.25 66.41,250.50 66.41,250.75 66.40,251.00 66.40,251.25 66.40,251.50 66.40,251.75 66.40,252.00 66.40,252.25 66.40,252.50 66.40,252.75 66.40,253.00 66.40,253.25 66.40,253.50 66.40,253.75 66.40,254.00 66.40,254.25 66.40,254.50 66.40,254.75 66.39,255.00 66.39,255.25 66.39,255.50 66.39,255.75 66.39,256.00 66.39,256.25 66.39,256.50 66.39,256.75 66.39,257.00 66.39,257.25 66.39,257.50 66.39,257.75 66.39,258.00 66.38,258.25 66.38,258.50 66.38,258.75 66.38,259.00 66.38,259.25 66.38,259.50 66.38,259.75 66.38,260.00 66.38,260.25 66.38,260.50 66.38,260.75 66.37,261.00 66.37,261.25 66.37,261.50 66.37,261.75 66.37,262.00 66.37,262.25 66.37,262.50 66.37,262.75 66.37,263.00 66.36,263.25 66.36,263.50 66.36,263.75 66.36,264.00 66.36,264.25 66.36,264.50 66.36,264.75 66.35,265.00 66.35,265.25 66.35,265.50 66.35,265.75 66.35,266.00 66.35,266.25 66.35,266.50 66.34,266.75 66.34,267.00 66.34,267.25 66.34,267.50 66.34,267.75 66.33,268.00 66.33,268.25 66.33,268.50 66.33,268.75 66.33,269.00 66.32,269.25 66.32,269.50 66.32,269.75 66.32,270.00 66.31,270.25 66.31,270.50 66.31,270.75 66.31,271.00 66.30,271.25 66.30,271.50 66.30,271.75 66.30,272.00 66.29,272.25 66.29,272.50 66.29,272.75 66.28,273.00 66.28,273.25 66.27,273.50 66.27,273.75 66.27,274.00 66.26,274.25 66.26,274.50 66.25,274.75 66.25,275.00 66.24,275.25 66.24,275.50 66.23,275.75 66.23,276.00 66.22,276.25 66.22,276.50 66.21,276.75 66.21,277.00 66.20,277.25 66.19,277.50 66.18,277.75 66.18,278.00 66.17,278.25 66.16,278.50 66.15,278.75 66.14,279.00 66.13,279.25 66.12,279.50 66.11,279.75 66.10,280.00 66.09,280.25 66.08,280.50 66.06,280.75 66.05,281.00 66.04,281.25 66.02,281.50 66.00,281.75 65.99,282.00 65.97,282.25 65.95,282.50 65.93,282.75 65.90,283.00 65.88,283.25 65.85,283.50 65.83,283.75 65.80,284.00 65.76,284.25 65.73,284.50 65.69,284.75 65.65,285.00 65.61,285.25 65.56,285.50 65.51,285.75 65.45,286.00 65.38,286.25 65.31,286.50 65.23,286.75 65.14,287.00 65.03,287.25 64.91,287.50 64.76,287.75 64.59,288.00 64.38,288.25 64.13,288.50 63.82,288.75 63.46,289.00 63.02,289.25 62.49,289.50 61.86,289.75 61.11,290.00 60.25,290.25 59.25,290.50 58.11,290.75 56.85,291.00 55.46,291.25 53.98,291.50 52.41,291.75 50.82,292.00 49.27,292.25 47.83,292.50 46.60,292.75 45.69,293.00 45.19,293.25 45.14,293.50 45.56,293.75 46.39,294.00 47.56,294.25 48.97,294.50 50.50,294.75 52.09,295.00 53.66,295.25 55.17,295.50 56.58,295.75 57.87,296.00 59.02,296.25 60.05,296.50 60.94,296.75 61.71,297.00 62.36,297.25 62.91,297.50 63.37,297.75 63.75,298.00 64.06,298.25 64.32,298.50 64.54,298.75 64.72,299.00 64.87,299.25 64.99,299.50 65.10,299.75 65.20,300.00 65.28,300.25 65.35,300.50 65.42,300.75 65.48,301.00 65.53,301.25 65.58,301.50 65.63,301.75 65.67,302.00 65.70,302.25 65.74,302.50 65.77,302.75 65.80,303.00 65.83,303.25 65.85,303.50 65.88,303.75 65.90,304.00 65.92,304.25 65.94,304.50 65.96,304.75 65.98,305.00 65.99,305.25 66.01,305.50 66.02,305.75 66.03,306.00 66.05,306.25 66.06,306.50 66.07,306.75 66.08,307.00 66.09,307.25 66.10,307.50 66.11,307.75 66.12,308.00 66.13,308.25 66.14,308.50 66.14,308.75 66.15,309.00 66.16,309.25 66.16,309.50 66.17,309.75 66.17,310.00 66.18,310.25 66.19,310.50 66.19,310.75 66.20,311.00 66.20,311.25 66.20,311.50 66.21,311.75 66.21,312.00 66.22,312.25 66.22,312.50 66.22,312.75 66.23,313.00 66.23,313.25 66.23,313.50 66.24,313.75 66.24,314.00 66.24,314.25 66.25,314.50 66.25,314.75 66.25,315.00 66.25,315.25 66.26,315.50 66.26,315.75 66.26,316.00 66.26,316.25 66.26,316.50 66.27,316.75 66.27,317.00 66.27,317.25 66.27,317.50 66.27,317.75 66.28,318.00 66.28,318.25 66.28,318.50 66.28,318.75 66.28,319.00 66.28,319.25 66.28,319.50 66.28,319.75 66.29,320.00 66.29,320.25 66.29,320.50 66.29,320.75 66.29,321.00 66.29,321.25 66.29,321.50 66.29,321.75 66.29,322.00 66.30,322.25 66.30,322.50 66.30,322.75 66.30,323.00 66.30,323.25 66.30,323.50 66.30,323.75 66.30,324.00 66.30,324.25 66.30,324.50 66.30,324.75 66.30,325.00 66.30,325.25 66.30,325.50 66.31,325.75 66.31,326.00 66.31,326.25 66.31,326.50 66.31,326.75 66.31,327.00 66.31,327.25 66.31,327.50 66.31,327.75 66.31,328.00 66.31,328.25 66.31,328.50 66.31,328.75 66.31,329.00 66.31,329.25 66.31,329.50 66.31,329.75 66.31,330.00 66.31,330.25 66.31,330.50 66.31,330.75 66.31,331.00 66.31,331.25 66.31,331.50 66.31,331.75 66.31,332.00 66.31,332.25 66.31,332.50 66.31,332.75 66.31,333.00 66.32,333.25 66.32,333.50 66.32,333.75 66.32,334.00 66.32,334.25 66.32,334.50 66.32,334.75 66.32,335.00 66.32,335.25 66.32,335.50 66.32,335.75 66.32,336.00 66.32,336.25 66.32,336.50 66.32,336.75 66.32,337.00 66.32,337.25 66.32,337.50 66.32,337.75 66.32,338.00 66.32,338.25 66.32,338.50 66.32,338.75 66.32,339.00 66.32,339.25 66.32,339.50 66.32,339.75 66.32,340.00 66.32,340.25 66.32,340.50 66.32,340.75 66.32,341.00 66.32,341.25 66.32,341.50 66.32,341.75 66.32,342.00 66.32,342.25 66.32,342.50 66.32,342.75 66.32,343.00 66.32,343.25 66.32,343.50 66.32,343.75 66.32,344.00 66.32,344.25 66.32,344.50 66.32,344.75 66.32,345.00 66.32,345.25 66.32,345.50 66.32,345.75 66.32,346.00 66.32,346.25 66.32,346.50 66.32,346.75 66.32,347.00 66.31,347.25 66.31,347.50 66.31,347.75 66.31,348.00 66.31,348.25 66.31,348.50 66.31,348.75 66.31,349.00 66.31,349.25 66.31,349.50 66.31,349.75 66.31,350.00 66.31,350.25 66.31,350.50 66.31,350.75 66.31,351.00 66.31,351.25 66.31,351.50 66.31,351.75 66.31,352.00 66.31,352.25 66.31,352.50 66.31,352.75 66.31,353.00 66.31,353.25 66.31,353.50 66.31,353.75 66.31,354.00 66.31,354.25 66.31,354.50 66.31,354.75 66.31,355.00 66.31,355.25 66.31,355.50 66.31,355.75 66.31,356.00 66.31,356.25 66.31,356.50 66.31,356.75 66.31,357.00 66.31,357.25 66.31,357.50 66.31,357.75 66.31,358.00 66.31,358.25 66.31,358.50 66.31,358.75 66.31,359.00 66.31,359.25 66.31,359.50 66.31,359.75 66.31,360.00 66.31,360.25 66.31,360.50 66.31,360.75 66.31,361.00 66.31,361.25 66.31,361.50 66.31,361.75 66.31,362.00 66.31,362.25 66.30,362.50 66.30,362.75 66.30,363.00 66.30,363.25 66.30,363.50 66.30,363.75 66.30,364.00 66.30,364.25 66.30,364.50 66.30,364.75 66.30,365.00 66.30,365.25 66.30,365.50 66.30,365.75 66.30,366.00 66.30,366.25 66.30,366.50 66.30,366.75 66.30,367.00 66.30,367.25 66.30,367.50 66.30,367.75 66.30,368.00 66.30,368.25 66.30,368.50 66.30,368.75 66.30,369.00 66.30,369.25 66.30,369.50 66.30,369.75 66.30,370.00 66.30,370.25 66.30,370.50 66.30,370.75 66.30,371.00 66.30,371.25 66.30,371.50 66.30,371.75 66.30,372.00 66.30,372.25 66.30,372.50 66.30,372.75 66.30,373.00 66.29,373.25 66.29,373.50 66.29,373.75 66.29,374.00 66.29,374.25 66.29,374.50 66.29,374.75 66.29,375.00 66.29,375.25 66.29,375.50 66.29,375.75 66.29,376.00 66.29,376.25 66.29,376.50 66.29,376.75 66.29,377.00 66.29,377.25 66.29,377.50 66.29,377.75 66.29,378.00 66.29,378.25 66.29,378.50 66.29,378.75 66.29,379.00 66.29,379.25 66.29,379.50 66.29,379.75 66.29,380.00 66.29,380.25 66.29,380.50 66.29,380.75 66.29,381.00 66.29,381.25 66.29,381.50 66.29,381.75 66.29,382.00 66.29,382.25 66.29,382.50 66.29,382.75 66.28,383.00 66.28,383.25 66.28,383.50 66.28,383.75 66.28,384.00 66.28,384.25 66.28,384.50 66.28,384.75 66.28,385.00 66.28,385.25 66.28,385.50 66.28,385.75 66.28,386.00 66.28,386.25 66.28,386.50 66.28,386.75 66.28,387.00 66.28,387.25 66.28,387.50 66.28,387.75 66.28,388.00 66.28,388.25 66.28,388.50 66.28,388.75 66.28,389.00 66.28,389.25 66.28,389.50 66.28,389.75 66.28,390.00 66.28,390.25 66.28,390.50 66.28,390.75 66.28,391.00 66.28,391.25 66.28,391.50 66.27,391.75 66.27,392.00 66.27,392.25 66.27,392.50 66.27,392.75 66.27,393.00 66.27,393.25 66.27,393.50 66.27,393.75 66.27,394.00 66.27,394.25 66.27,394.50 66.27,394.75 66.27,395.00 66.27,395.25 66.27,395.50 66.27,395.75 66.27,396.00 66.27,396.25 66.27,396.50 66.27,396.75 66.27,397.00 66.27,397.25 66.27,397.50 66.27,397.75 66.27,398.00 66.27,398.25 66.27,398.50 66.27,398.75 66.27,399.00 66.27,399.25 66.27,399.50 66.26,399.75 66.26,400.00 66.26,400.25 66.26,400.50 66.26,400.75 66.26,401.00 66.26,401.25 66.26,401.50 66.26,401.75 66.26,402.00 66.26,402.25 66.26,402.50 66.26,402.75 66.26,403.00 66.26,403.25 66.26,403.50 66.26,403.75 66.26,404.00 66.26,404.25 66.26,404.50 66.26,404.75 66.26,405.00 66.26,405.25 66.26,405.50 66.26,405.75 66.26,406.00 66.25,406.25 66.25,406.50 66.25,406.75 66.25,407.00 66.25,407.25 66.25,407.50 66.25,407.75 66.25,408.00 66.25,408.25 66.25,408.50 66.25,408.75 66.25,409.00 66.25,409.25 66.25,409.50 66.25,409.75 66.25,410.00 66.25,410.25 66.25,410.50 66.25,410.75 66.25,411.00 66.24,411.25 66.24,411.50 66.24,411.75 66.24,412.00 66.24,412.25 66.24,412.50 66.24,412.75 66.24,413.00 66.24,413.25 66.24,413.50 66.24,413.75 66.24,414.00 66.24,414.25 66.24,414.50 66.23,414.75 66.23,415.00 66.23,415.25 66.23,415.50 66.23,415.75 66.23,416.00 66.23,416.25 66.23,416.50 66.22,416.75 66.22,417.00 66.22,417.25 66.22,417.50 66.22,417.75 66.21,418.00 66.21,418.25 66.21,418.50 66.21,418.75 66.20,419.00 66.20,419.25 66.20,419.50 66.19,419.75 66.19,420.00 66.18,420.25 66.17,420.50 66.16,420.75 66.15,421.00 66.14,421.25 66.13,421.50 66.11,421.75 66.09,422.00 66.06,422.25 66.02,422.50 65.97,422.75 65.90,423.00 65.80,423.25 65.65,423.50 65.38,423.75 64.78,424.00 63.13,424.25 59.29,424.50 53.87,424.75 53.06,425.00 58.23,425.25 62.56,425.50 64.56,425.75 65.29,426.00 65.60,426.25 65.77,426.50 65.87,426.75 65.95,427.00 66.00,427.25 66.04,427.50 66.06,427.75 66.08,428.00 66.10,428.25 66.11,428.50 66.12,428.75 66.13,429.00 66.14,429.25 66.14,429.50 66.15,429.75 66.15,430.00 66.15,430.25 66.15,430.50 66.16,430.75 66.16,431.00 66.16,431.25 66.16,431.50 66.15,431.75 66.15,432.00 66.15,432.25 66.15,432.50 66.15,432.75 66.14,433.00 66.14,433.25 66.14,433.50 66.13,433.75 66.13,434.00 66.12,434.25 66.12,434.50 66.11,434.75 66.10,435.00 66.10,435.25 66.09,435.50 66.08,435.75 66.06,436.00 66.05,436.25 66.04,436.50 66.02,436.75 66.00,437.00 65.98,437.25 65.95,437.50 65.92,437.75 65.88,438.00 65.84,438.25 65.78,438.50 65.72,438.75 65.63,439.00 65.52,439.25 65.36,439.50 65.13,439.75 64.77,440.00 64.23,440.25 63.45,440.50 62.37,440.75 60.97,441.00 59.33,441.25 57.63,441.50 56.27,441.75 55.73,442.00 56.27,442.25 57.63,442.50 59.33,442.75 60.97,443.00 62.37,443.25 63.45,443.50 64.23,443.75 64.77,444.00 65.12,444.25 65.36,444.50 65.52,444.75 65.63,445.00 65.71,445.25 65.78,445.50 65.83,445.75 65.88,446.00 65.91,446.25 65.94,446.50 65.97,446.75 65.99,447.00 66.01,447.25 66.03,447.50 66.04,447.75 66.06,448.00 66.07,448.25 66.08,448.50 66.09,448.75 66.10,449.00 66.11,449.25 66.11,449.50 66.12,449.75 66.12,450.00 66.13,450.25 66.13,450.50 66.14,450.75 66.14,451.00 66.14,451.25 66.15,451.50 66.15,451.75 66.15,452.00 66.16,452.25 66.16,452.50 66.16,452.75 66.16,453.00 66.16,453.25 66.17,453.50 66.17,453.75 66.17,454.00 66.17,454.25 66.17,454.50 66.17,454.75 66.17,455.00 66.17,455.25 66.18,455.50 66.18,455.75 66.18,456.00 66.18,456.25 66.18,456.50 66.18,456.75 66.18,457.00 66.18,457.25 66.18,457.50 66.18,457.75 66.18,458.00 66.18,458.25 66.18,458.50 66.18,458.75 66.18,459.00 66.18,459.25 66.18,459.50 66.18,459.75 66.18,460.00 66.18,460.25 66.18,460.50 66.18,460.75 66.18,461.00 66.18,461.25 66.19,461.50 66.19,461.75 66.19,462.00 66.19,462.25 66.19,462.50 66.19,462.75 66.19,463.00 66.19,463.25 66.19,463.50 66.19,463.75 66.19,464.00 66.19,464.25 66.19,464.50 66.19,464.75" stroke="#bb6e76" stroke-width="1.3" fill="none" stroke-linejoin="round"/><path d="M496.2 70 L497.3 66.5 L497.6 80 L497.0 98 L496.2 96 Z M498.6 67.5 L499.6 68.5 L499.4 78 L498.7 80 Z" fill="#8c1c22" fill-opacity="0.85"/><path d="M14 195.2 L44 194.6 L44 196.6 L16 196.0 Z" fill="#8c1c22" fill-opacity="0.8"/><path d="M44 203.6 L56 203.2 L56 204.6 L44 205.2 Z M45 206.2 L58 205.8 L58 207 L45 207.3 Z" fill="#8c1c22" fill-opacity="0.6"/><path d="M126.2 84.1L110.1 98.6M475.3 32.2L496.4 65.5M525.5 53.9L502.6 63.5" stroke="#333" stroke-width="0.9" fill="none"/><g font-family="Liberation Sans" fill="#1a1a1a" stroke="#1a1a1a" stroke-width="0.4"><text x="11.4" y="49.1" font-size="22.5" textLength="10.0" lengthAdjust="spacingAndGlyphs">a</text><text x="23.6" y="49.1" font-size="24">)</text><text x="73.7" y="96.9" font-size="15.5" textLength="11.8" lengthAdjust="spacingAndGlyphs">4’</text><text x="126.9" y="78.6" font-size="16.8" textLength="21.4" lengthAdjust="spacingAndGlyphs">3,4</text><text x="320.3" y="89.8" font-size="16.5" textLength="25.5" lengthAdjust="spacingAndGlyphs">a,a’</text><text x="538.8" y="89.8" font-size="15.3" textLength="23.9" lengthAdjust="spacingAndGlyphs">b,b’</text><text x="579.6" y="81.2" font-size="15.2" textLength="24.3" lengthAdjust="spacingAndGlyphs">c,c'</text><text x="398.1" y="21.9" font-size="15.3" textLength="128.1" lengthAdjust="spacingAndGlyphs">CH<tspan font-size="10.5" dy="3.8">3</tspan><tspan dy="-3.8"> on C2 and C5</tspan></text><text x="504.6" y="42.6" font-size="15.3" textLength="77.6" lengthAdjust="spacingAndGlyphs">CH<tspan font-size="10.5" dy="3.8">3</tspan><tspan dy="-3.8"> on C5’</tspan></text></g><text x="405" y="84.1" font-family="Liberation Sans" font-size="13.8" font-weight="bold" fill="#111" stroke="#111" stroke-width="0.25" textLength="70.5" lengthAdjust="spacingAndGlyphs">CH<tspan font-size="9.5" dy="3.2">3</tspan><tspan dy="-3.2"> on C5’</tspan></text><g font-family="Liberation Sans" fill="#151515" stroke="#151515" stroke-width="0.25"><text x="68.6" y="181.6" font-size="14.5" font-weight="bold" textLength="93.9" lengthAdjust="spacingAndGlyphs">4’-(CH<tspan font-size="9.5" dy="3.5">3</tspan><tspan dy="-3.5"> on C5’)</tspan></text><text x="100.3" y="219.4" font-size="14.5" font-weight="bold" textLength="121.5" lengthAdjust="spacingAndGlyphs">3,4 -(CH<tspan font-size="9.5" dy="3.5">3</tspan><tspan dy="-3.5"> on C2,C5)</tspan></text><text x="302.2" y="139.6" font-size="13.3" font-weight="bold" textLength="51.6" lengthAdjust="spacingAndGlyphs">a,a’-b,b’</text><text x="495.0" y="145.9" font-size="14.3" font-weight="bold" textLength="51.4" lengthAdjust="spacingAndGlyphs">b,b’-c,c’</text><text x="597.2" y="165.9" font-size="14.3" font-weight="bold" textLength="51.0" lengthAdjust="spacingAndGlyphs">c,c’-b,b’</text><text x="575.6" y="295.7" font-size="13.4" font-weight="bold" textLength="51.4" lengthAdjust="spacingAndGlyphs">a’,a-b’,b</text><text x="377.9" y="415.9" font-size="14.5" font-weight="bold" textLength="118.3" lengthAdjust="spacingAndGlyphs">(CH<tspan font-size="9.5" dy="3.5">3</tspan><tspan dy="-3.5"> on C2,C5)-3,4</tspan></text><text x="505.8" y="446.4" font-size="14.5" font-weight="bold" textLength="94" lengthAdjust="spacingAndGlyphs">(CH<tspan font-size="9.5" dy="3.5">3</tspan><tspan dy="-3.5"> on C5’)-4’</tspan></text></g><g><ellipse cx="76.5" cy="195.9" rx="1.4" ry="4.0" fill="#e81818" fill-opacity="0.85"/><ellipse cx="76.5" cy="195.6" rx="0.5" ry="1.8" fill="#f09090" fill-opacity="0.6"/><ellipse cx="104.8" cy="198" rx="1.4" ry="5.3" fill="#b80c10" fill-opacity="0.9"/><path d="M319.90 158.50C320.13 157.27 320.70 157.05 321.20 156.60C321.70 156.15 322.47 156.35 322.90 155.80C323.33 155.25 323.17 153.92 323.80 153.30C324.43 152.68 325.70 152.22 326.70 152.10C327.70 151.98 328.75 152.65 329.80 152.60C330.85 152.55 332.13 151.65 333.00 151.80C333.87 151.95 334.62 152.47 335.00 153.50C335.38 154.53 335.30 156.42 335.30 158.00C335.30 159.58 335.25 161.70 335.00 163.00C334.75 164.30 334.47 164.87 333.80 165.80C333.13 166.73 332.13 168.07 331.00 168.60C329.87 169.13 328.25 169.13 327.00 169.00C325.75 168.87 324.57 167.95 323.50 167.80C322.43 167.65 321.22 168.73 320.60 168.10C319.98 167.47 319.92 165.60 319.80 164.00C319.68 162.40 319.67 159.73 319.90 158.50Z" fill="#e81818"/><ellipse cx="327.5" cy="158" rx="1.2" ry="2.5" fill="#b80c10" fill-opacity="0.8"/><ellipse cx="331" cy="163" rx="1.0" ry="2.2" fill="#b80c10" fill-opacity="0.8"/><ellipse cx="324.5" cy="163" rx="1.0" ry="2.5" fill="#b80c10" fill-opacity="0.8"/><ellipse cx="333" cy="156" rx="0.8" ry="2" fill="#b80c10" fill-opacity="0.8"/><ellipse cx="332.2" cy="159.5" rx="0.6" ry="1.0" fill="#f4b0b0" fill-opacity="0.9"/><ellipse cx="328.8" cy="160.5" rx="0.5" ry="0.9" fill="#f4b0b0" fill-opacity="0.9"/><ellipse cx="322" cy="161" rx="0.4" ry="1.0" fill="#f4b0b0" fill-opacity="0.9"/><path d="M328.00 285.00C329.03 284.97 330.82 284.60 332.00 285.30C333.18 286.00 334.17 288.32 335.10 289.20C336.03 290.08 337.55 289.77 337.60 290.60C337.65 291.43 336.00 292.55 335.40 294.20C334.80 295.85 334.88 298.90 334.00 300.50C333.12 302.10 331.37 303.12 330.10 303.80C328.83 304.48 327.53 304.38 326.40 304.60C325.27 304.82 324.33 305.32 323.30 305.10C322.27 304.88 320.83 304.53 320.20 303.30C319.57 302.07 319.40 299.67 319.50 297.70C319.60 295.73 320.07 293.08 320.80 291.50C321.53 289.92 323.07 289.20 323.90 288.20C324.73 287.20 325.12 286.03 325.80 285.50C326.48 284.97 326.97 285.03 328.00 285.00Z" fill="#cf1212"/><ellipse cx="327" cy="292" rx="1.3" ry="3" fill="#b80c10" fill-opacity="0.8" transform="rotate(-20 327 292)"/><ellipse cx="331" cy="296" rx="1.3" ry="3.5" fill="#b80c10" fill-opacity="0.8" transform="rotate(-20 331 296)"/><ellipse cx="324" cy="300" rx="1.2" ry="2.5" fill="#b80c10" fill-opacity="0.8" transform="rotate(-20 324 300)"/><ellipse cx="329.5" cy="289" rx="1" ry="1.8" fill="#b80c10" fill-opacity="0.8" transform="rotate(-20 329.5 289)"/><ellipse cx="324.5" cy="295.5" rx="0.6" ry="2.2" fill="#e8a0a0" fill-opacity="0.9" transform="rotate(-20 324.5 295.5)"/><ellipse cx="328.5" cy="294.5" rx="0.5" ry="1.6" fill="#e8a0a0" fill-opacity="0.9" transform="rotate(-20 328.5 294.5)"/><ellipse cx="331.4" cy="280.6" rx="0.8" ry="1.2" fill="#e81818" fill-opacity="0.9"/><ellipse cx="475.9" cy="196.2" rx="2.9" ry="4.4" fill="#e81818" fill-opacity="1"/><ellipse cx="476.1" cy="196.0" rx="1.0" ry="2.0" fill="#f2a8a8" fill-opacity="0.9"/><ellipse cx="481.7" cy="195.6" rx="0.7" ry="2.6" fill="#e81818" fill-opacity="0.95"/><ellipse cx="484.4" cy="200.8" rx="0.75" ry="4.3" fill="#e81818" fill-opacity="0.95"/><path d="M473.00 205.00C473.35 204.08 474.25 203.27 475.00 203.00C475.75 202.73 476.83 203.18 477.50 203.40C478.17 203.62 478.28 204.12 479.00 204.30C479.72 204.48 481.30 204.15 481.80 204.50C482.30 204.85 482.38 205.95 482.00 206.40C481.62 206.85 480.07 206.68 479.50 207.20C478.93 207.72 478.92 208.62 478.60 209.50C478.28 210.38 478.12 211.90 477.60 212.50C477.08 213.10 476.22 213.18 475.50 213.10C474.78 213.02 473.73 212.77 473.30 212.00C472.87 211.23 472.95 209.67 472.90 208.50C472.85 207.33 472.65 205.92 473.00 205.00Z" fill="#e81818"/><ellipse cx="475.5" cy="209" rx="0.8" ry="2" fill="#f2a8a8" fill-opacity="0.7"/><path d="M496.50 188.60C497.13 188.85 498.25 189.43 498.80 190.50C499.35 191.57 499.68 193.42 499.80 195.00C499.92 196.58 499.77 198.50 499.50 200.00C499.23 201.50 498.52 202.67 498.20 204.00C497.88 205.33 497.83 206.58 497.60 208.00C497.37 209.42 497.13 211.67 496.80 212.50C496.47 213.33 495.97 213.58 495.60 213.00C495.23 212.42 494.83 210.42 494.60 209.00C494.37 207.58 494.47 205.83 494.20 204.50C493.93 203.17 493.28 202.33 493.00 201.00C492.72 199.67 492.42 198.08 492.50 196.50C492.58 194.92 493.08 192.75 493.50 191.50C493.92 190.25 494.50 189.48 495.00 189.00C495.50 188.52 495.87 188.35 496.50 188.60Z" fill="#e81818"/><ellipse cx="496.3" cy="196.5" rx="0.9" ry="4.8" fill="#f5c8c8" fill-opacity="0.95"/><ellipse cx="495.7" cy="207" rx="0.9" ry="3.5" fill="#b80c10" fill-opacity="0.7"/><ellipse cx="494.4" cy="248.5" rx="2.0" ry="6.4" fill="#e81818" fill-opacity="0.9"/><ellipse cx="494.6" cy="248.5" rx="0.8" ry="3" fill="#b80c10" fill-opacity="0.8"/><ellipse cx="496.5" cy="444" rx="1.7" ry="4.7" fill="#f4b4b4" fill-opacity="1" stroke="#e81818" stroke-width="1.0"/><ellipse cx="554.6" cy="143.5" rx="0.8" ry="1.5" fill="#e81818" fill-opacity="0.9"/><ellipse cx="559.5" cy="143.5" rx="0.8" ry="3.1" fill="#e81818" fill-opacity="0.95"/><ellipse cx="563.2" cy="143.6" rx="1.6" ry="3.2" fill="#e81818" fill-opacity="0.95"/><ellipse cx="563.0" cy="143.6" rx="0.4" ry="1.8" fill="#f2b0b0" fill-opacity="0.9"/><path d="M552.30 159.00C552.45 157.83 552.97 156.83 553.50 156.50C554.03 156.17 554.83 157.22 555.50 157.00C556.17 156.78 556.83 155.28 557.50 155.20C558.17 155.12 558.83 156.48 559.50 156.50C560.17 156.52 560.68 155.35 561.50 155.30C562.32 155.25 563.80 155.42 564.40 156.20C565.00 156.98 565.07 158.60 565.10 160.00C565.13 161.40 565.20 163.72 564.60 164.60C564.00 165.48 562.35 165.37 561.50 165.30C560.65 165.23 560.17 164.17 559.50 164.20C558.83 164.23 558.25 165.45 557.50 165.50C556.75 165.55 555.82 164.83 555.00 164.50C554.18 164.17 553.05 164.42 552.60 163.50C552.15 162.58 552.15 160.17 552.30 159.00Z" fill="#e81818"/><ellipse cx="556.2" cy="160.5" rx="0.5" ry="2.0" fill="#f4b8b8" fill-opacity="0.9"/><ellipse cx="560.2" cy="159.5" rx="0.5" ry="1.8" fill="#f4b8b8" fill-opacity="0.9"/><ellipse cx="558" cy="162" rx="0.4" ry="1.2" fill="#f4b8b8" fill-opacity="0.9"/><path d="M585.50 134.80C586.33 134.75 587.70 134.80 588.50 135.50C589.30 136.20 589.95 137.58 590.30 139.00C590.65 140.42 590.62 142.42 590.60 144.00C590.58 145.58 590.63 147.30 590.20 148.50C589.77 149.70 588.78 150.75 588.00 151.20C587.22 151.65 586.25 151.40 585.50 151.20C584.75 151.00 583.95 150.70 583.50 150.00C583.05 149.30 583.23 147.83 582.80 147.00C582.37 146.17 581.00 145.75 580.90 145.00C580.80 144.25 581.92 143.67 582.20 142.50C582.48 141.33 582.38 139.12 582.60 138.00C582.82 136.88 583.02 136.33 583.50 135.80C583.98 135.27 584.67 134.85 585.50 134.80Z" fill="#e81818"/><ellipse cx="585.2" cy="139.5" rx="0.6" ry="2.2" fill="#f4c0c0" fill-opacity="0.95"/><ellipse cx="586.8" cy="145" rx="0.5" ry="2.5" fill="#f4c0c0" fill-opacity="0.95"/><ellipse cx="584.8" cy="147" rx="0.4" ry="1.5" fill="#f4c0c0" fill-opacity="0.95"/><ellipse cx="586.7" cy="159.6" rx="3.6" ry="6.0" fill="none" fill-opacity="1" stroke="#e81818" stroke-width="1.4"/><ellipse cx="586.5" cy="159.6" rx="1.5" ry="3.8" fill="none" fill-opacity="1" stroke="#e81818" stroke-width="1.1"/><ellipse cx="552.9" cy="295.2" rx="1.5" ry="4.4" fill="#e81818" fill-opacity="1"/><ellipse cx="555.0" cy="295" rx="1.5" ry="6.2" fill="#e81818" fill-opacity="1"/><ellipse cx="557.2" cy="294.9" rx="1.5" ry="6.6" fill="#e81818" fill-opacity="1"/><ellipse cx="559.4" cy="294.9" rx="1.5" ry="6.6" fill="#e81818" fill-opacity="1"/><ellipse cx="561.6" cy="295" rx="1.5" ry="6.3" fill="#e81818" fill-opacity="1"/><ellipse cx="563.6" cy="295.2" rx="1.5" ry="5.6" fill="#e81818" fill-opacity="1"/><ellipse cx="563.5" cy="295.5" rx="1.2" ry="3" fill="#b80c10" fill-opacity="0.7"/><ellipse cx="558.5" cy="293" rx="0.6" ry="1.2" fill="#f0b0b0" fill-opacity="0.9"/></g></svg></body></html>
